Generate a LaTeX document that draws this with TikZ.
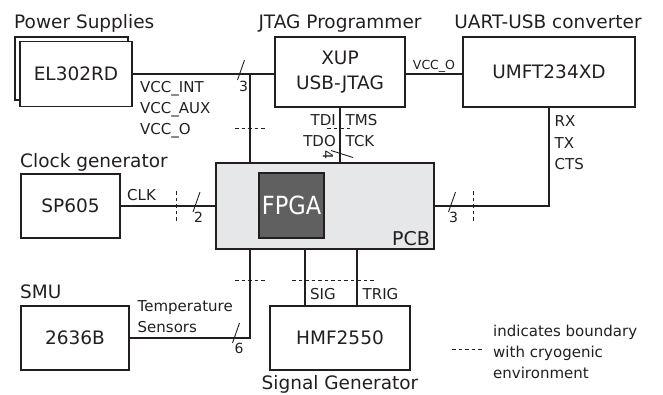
\documentclass[tikz,border=0pt]{standalone}
\usepackage{fontspec}
\usepackage{graphicx}
\setmainfont{DejaVu Sans}
\newcommand\fTit{\fontsize{18.5}{25}\selectfont}
\newcommand\fLab{\fontsize{15}{18}\selectfont}
\newcommand\fSml{\fontsize{12.5}{15}\selectfont}
\newcommand\fNum{\fontsize{14}{16}\selectfont}
\newcommand\fPcb{\fontsize{19}{22}\selectfont}
\newcommand\fBig{\fontsize{25}{28}\selectfont}
\definecolor{pcbgray}{RGB}{230,231,232}
\definecolor{fpgagray}{RGB}{96,96,96}
\definecolor{ink}{RGB}{35,31,32}
\tikzset{
  blk/.style={draw, line width=1.3pt, fill=white, inner sep=0pt, font=\fTit, align=center},
  ttl/.style={inner sep=0pt, font=\fTit},
  lbl/.style={inner sep=0pt, font=\fLab},
  smalllbl/.style={inner sep=0pt, font=\fSml},
  busnum/.style={inner sep=0pt, font=\fNum},
  wire/.style={line width=1.2pt},
  bound/.style={line width=0.9pt, dash pattern=on 3.5pt off 3pt},
  slash/.style={line width=0.9pt},
}
\begin{document}
\begin{tikzpicture}[x=1pt,y=-1pt,color=ink]
\useasboundingbox (0,0) rectangle (663,394);

% titles
\node[ttl, anchor=base west] (tps) at (14,28) {Power Supplies};
\node[ttl, anchor=base] (tjtag) at (340,28) {JTAG Programmer};
\node[ttl, anchor=base] (tuart) at (548,28) {UART-USB converter};
\node[ttl, anchor=base west] (tclk) at (20,167) {Clock generator};
\node[ttl, anchor=base west] (tsmu) at (20,298) {SMU};
\node[ttl, anchor=base] (tsig) at (340,389) {Signal Generator};

% boxes
\node[blk, minimum width=113pt, minimum height=63pt] (psback) at (71.5,68.5) {};
\node[blk, minimum width=112pt, minimum height=65pt] (ps) at (76,74) {EL302RD};
\node[blk, minimum width=130pt, minimum height=70pt] (xup) at (340,72) {XUP\\USB-JTAG};
\node[blk, minimum width=172pt, minimum height=70pt] (umft) at (549,72) {UMFT234XD};
\node[blk, minimum width=99pt, minimum height=64pt] (sp) at (70.5,206) {SP605};
\node[blk, fill=pcbgray, minimum width=218pt, minimum height=86pt] (pcb) at (325,206) {};
\node[blk, fill=fpgagray, text=white, font=\fBig, minimum width=65pt, minimum height=65pt] (fpga) at (291.5,205.5) {\scalebox{0.9}[1]{FPGA}};
\node[anchor=base east, inner sep=0pt, font=\fPcb] (pcbl) at (430,245) {PCB};
\node[blk, minimum width=108pt, minimum height=64pt] (smu) at (75,338) {2636B};
\node[blk, minimum width=140pt, minimum height=64pt] (hmf) at (340,338) {HMF2550};

% connectors
\coordinate (j1) at (250,74);
\draw[wire] (ps.east) -- (ps.east -| xup.west);
\draw[wire] (j1) -- (j1 |- pcb.north);
\draw[wire] (ps.east -| xup.east) -- (ps.east -| umft.west);
\draw[wire] (umft.south) -- (umft.south |- pcb.east) -- (pcb.east);
\draw[wire] (sp.east) -- (pcb.west);
\coordinate (j2) at (250,338);
\draw[wire] (smu.east) -- (j2) -- (j2 |- pcb.south);
\coordinate (sigx) at (305,0);
\coordinate (trigx) at (357,0);
\draw[wire] (pcb.south -| sigx) -- (hmf.north -| sigx);
\draw[wire] (pcb.south -| trigx) -- (hmf.north -| trigx);
\draw[wire] (xup.south) -- (xup.south |- pcb.north);

% labels
\node[lbl, anchor=base west] (l1) at (140,92) {VCC\_INT};
\node[lbl, anchor=base west] (l2) at (140,113) {VCC\_AUX};
\node[lbl, anchor=base west] (l3) at (140,134.5) {VCC\_O};
\node[smalllbl, anchor=base] (l4) at (434,69) {VCC\_O};
\node[lbl, anchor=base east] (l5) at (336,125) {TDI};
\node[lbl, anchor=base east] (l6) at (336,146) {TDO};
\node[lbl, anchor=base west] (l7) at (345.5,125) {TMS};
\node[lbl, anchor=base west] (l8) at (345.5,146) {TCK};
\node[lbl, anchor=base west] (l9) at (554.5,126.5) {RX};
\node[lbl, anchor=base west] (l10) at (554.5,148) {TX};
\node[lbl, anchor=base west] (l11) at (554.5,169) {CTS};
\node[lbl, anchor=base west] (l12) at (127,200) {CLK};
\node[lbl, anchor=base west] (l13) at (137.5,311.5) {Temperature};
\node[lbl, anchor=base west] (l14) at (137.5,332.5) {Sensors};
\node[lbl, anchor=base west] (l15) at (310,299) {SIG};
\node[lbl, anchor=base west] (l16) at (362.5,299) {TRIG};
\node[lbl, anchor=base west] (g1) at (493,336.5) {indicates boundary};
\node[lbl, anchor=base west] (g2) at (493,357.3) {with cryogenic};
\node[lbl, anchor=base west] (g3) at (493,378) {environment};

% boundaries
\draw[bound] (235,128) -- (265,128);
\draw[bound] (327,128) -- (352,128);
\draw[bound] (176.5,191) -- (176.5,221);
\draw[bound] (473.3,191) -- (473.3,221);
\draw[bound] (235,280) -- (265,280);
\draw[bound] (292,280) -- (375,280);
\draw[bound] (452,349) -- (482,349);

% bus marks
\begin{scope}[shift={(241,74)}]
  \draw[slash] (-3.5,6) -- (3.5,-14);
  \node[busnum] at (2.5,12) {3};
\end{scope}
\begin{scope}[shift={(196.5,206)}]
  \draw[slash] (-3.5,6) -- (3.5,-14);
  \node[busnum] at (2,11) {2};
\end{scope}
\begin{scope}[shift={(452,206)}]
  \draw[slash] (-3.5,6) -- (3.5,-14);
  \node[busnum] at (1.5,11.5) {3};
\end{scope}
\begin{scope}[shift={(236,337)}]
  \draw[slash] (-3.5,6) -- (3.5,-14);
  \node[busnum] at (3,11) {6};
\end{scope}
\begin{scope}[shift={(339,154)}, rotate=-90]
  \draw[slash] (-3.5,8) -- (3.5,-14);
  \node[busnum, rotate=-90] at (1,11) {4};
\end{scope}
\end{tikzpicture}
\end{document}
